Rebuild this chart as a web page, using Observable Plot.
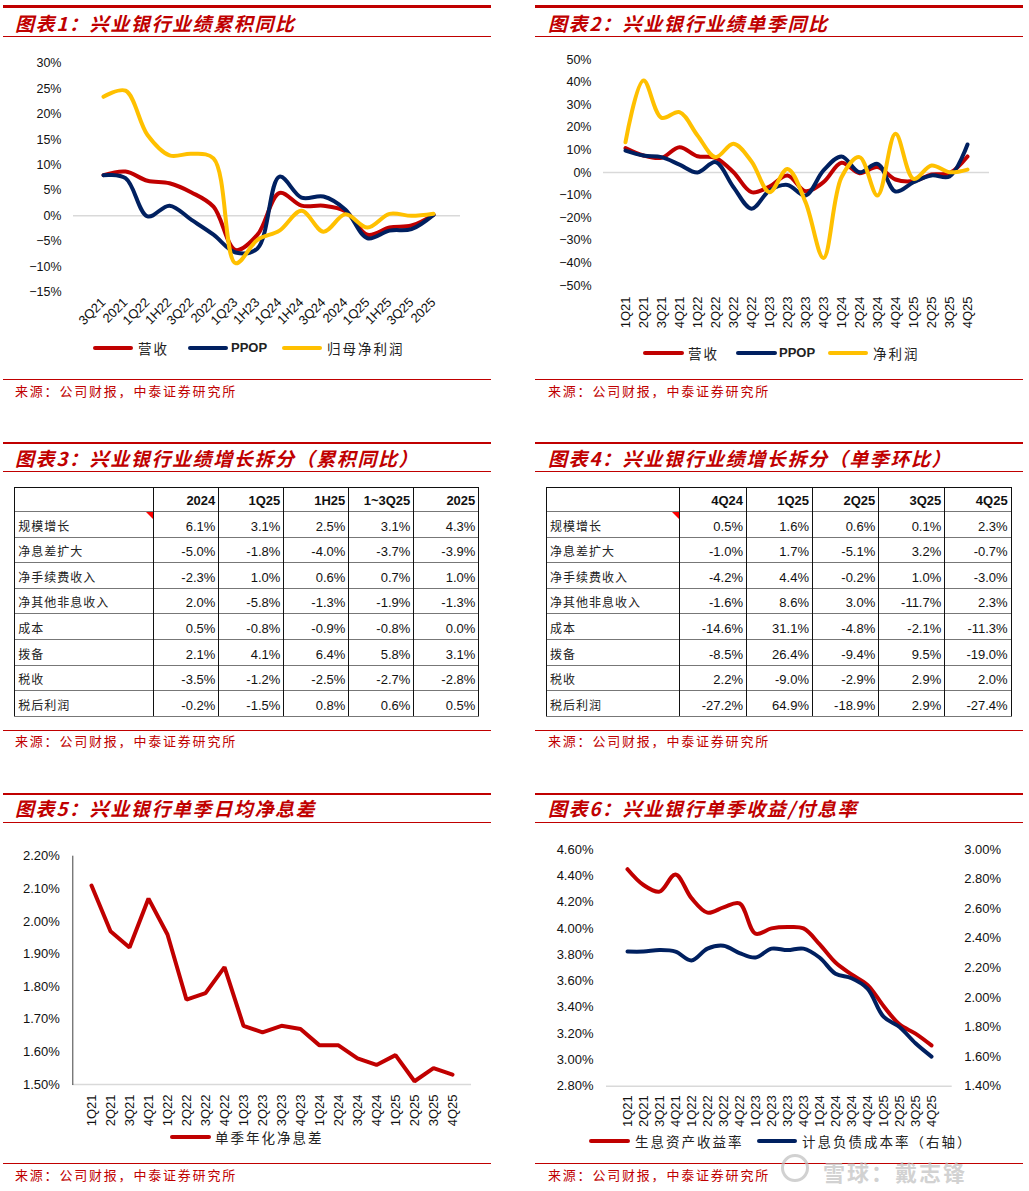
<!DOCTYPE html>
<html><head><meta charset="utf-8">
<script src="https://cdn.jsdelivr.net/npm/d3@7"></script>
<script src="https://cdn.jsdelivr.net/npm/@observablehq/plot@0.6"></script>
<style>
html,body{margin:0;padding:0;background:#fff;}
body{width:1029px;height:1191px;position:relative;overflow:hidden;font-family:"Liberation Sans",Arial,sans-serif;}
.topline{position:absolute;height:2.5px;background:#C00000;}
.thinline{position:absolute;height:1.2px;background:#C00000;}
.title{position:absolute;font-family:"Noto Sans CJK SC",sans-serif;font-weight:bold;font-style:italic;color:#C00000;font-size:19px;letter-spacing:1.6px;line-height:22px;white-space:nowrap;}
.src{position:absolute;font-family:"Noto Sans CJK SC",sans-serif;color:#C00000;font-size:13px;letter-spacing:1.8px;line-height:16px;white-space:nowrap;}
.chart{position:absolute;}
.leg{position:absolute;height:4px;border-radius:2px;}
.legt{position:absolute;font-family:"Noto Sans CJK SC",sans-serif;font-size:13.5px;letter-spacing:2px;line-height:18px;color:#222;white-space:nowrap;}
.legt.lat{font-family:"Liberation Sans",Arial,sans-serif;font-size:13px;letter-spacing:0;font-weight:bold;}
table.t{position:absolute;border-collapse:collapse;table-layout:fixed;border:1.2px solid #111;}
table.t td{border-left:1.2px solid #111;border-right:1.2px solid #111;border-top:1.6px solid #777;padding:0 3px 3px 3px;font-size:13px;color:#111;text-align:right;vertical-align:bottom;white-space:nowrap;overflow:hidden;}
table.t tr.h td{font-weight:bold;border-top:1.2px solid #111;}
table.t tr:last-child td{border-bottom:1.6px solid #777;}
table.t td.lab{text-align:left;font-family:"Noto Sans CJK SC",sans-serif;font-size:12px;letter-spacing:1px;position:relative;color:#222;}
.tri{position:absolute;right:0;top:0;width:0;height:0;border-top:7px solid #ff0000;border-left:7px solid transparent;}
.wm{position:absolute;font-family:"Noto Sans CJK SC",sans-serif;font-weight:bold;font-size:22px;color:rgba(190,190,190,0.7);letter-spacing:2px;white-space:nowrap;line-height:22px;}
.ring{position:absolute;border:3px solid rgba(190,190,190,0.7);border-radius:50%;}
</style>
</head><body>
<script>
// ---------------- DATA ----------------
// Chart 1: cumulative YoY (%)
const cumCats = ["3Q21","2021","1Q22","1H22","3Q22","2022","1Q23","1H23","1Q24","1H24","3Q24","2024","1Q25","1H25","3Q25","2025"];
const cumRevenue = [8.0,8.7,6.9,6.4,4.6,1.8,-6.7,-3.7,4.5,2.0,2.0,0.9,-3.7,-2.3,-1.9,0.2];
const cumPPOP    = [8.0,7.4,-0.1,2.0,-0.8,-3.7,-7.2,-6.4,7.7,3.6,3.8,1.2,-4.4,-2.9,-2.6,0.2];
const cumProfit  = [23.4,24.6,15.9,11.9,12.2,11.3,-9.3,-4.7,-2.9,1.0,-3.1,0.3,-2.3,0.4,0.0,0.4];
const cumTicks = [-15,-10,-5,0,5,10,15,20,25,30];

// Chart 2: single-quarter YoY (%)
const qCats = ["1Q21","2Q21","3Q21","4Q21","1Q22","2Q22","3Q22","4Q22","1Q23","2Q23","3Q23","4Q23","1Q24","2Q24","3Q24","4Q24","1Q25","2Q25","3Q25","4Q25"];
const qRevenue = [10.8,7.5,6.5,11.2,7.2,6.5,0.1,-8.7,-6.2,-1.3,-8.3,-4.3,4.3,-0.3,2.4,-3.1,-3.8,-0.9,-0.3,7.1];
const qPPOP    = [9.7,7.5,6.8,3.5,0.0,4.6,-6.5,-16.0,-8.0,-5.5,-10.2,0.9,7.1,0.1,3.8,-8.4,-4.3,-1.3,-1.8,12.4];
const qProfit  = [13.4,40.7,24.2,26.7,16.4,6.8,12.7,4.9,-8.7,1.6,-13.1,-37.8,-2.1,6.8,-10.2,17.1,-2.8,3.1,0.1,1.3];
const qTicks = [-50,-40,-30,-20,-10,0,10,20,30,40,50];

// Table 3: cumulative YoY decomposition
const t3Cols = ["2024","1Q25","1H25","1~3Q25","2025"];
const t3Rows = ["规模增长","净息差扩大","净手续费收入","净其他非息收入","成本","拨备","税收","税后利润"];
const t3Vals = [
  ["6.1%","3.1%","2.5%","3.1%","4.3%"],
  ["-5.0%","-1.8%","-4.0%","-3.7%","-3.9%"],
  ["-2.3%","1.0%","0.6%","0.7%","1.0%"],
  ["2.0%","-5.8%","-1.3%","-1.9%","-1.3%"],
  ["0.5%","-0.8%","-0.9%","-0.8%","0.0%"],
  ["2.1%","4.1%","6.4%","5.8%","3.1%"],
  ["-3.5%","-1.2%","-2.5%","-2.7%","-2.8%"],
  ["-0.2%","-1.5%","0.8%","0.6%","0.5%"]
];
// Table 4: single-quarter QoQ decomposition
const t4Cols = ["4Q24","1Q25","2Q25","3Q25","4Q25"];
const t4Rows = t3Rows;
const t4Vals = [
  ["0.5%","1.6%","0.6%","0.1%","2.3%"],
  ["-1.0%","1.7%","-5.1%","3.2%","-0.7%"],
  ["-4.2%","4.4%","-0.2%","1.0%","-3.0%"],
  ["-1.6%","8.6%","3.0%","-11.7%","2.3%"],
  ["-14.6%","31.1%","-4.8%","-2.1%","-11.3%"],
  ["-8.5%","26.4%","-9.4%","9.5%","-19.0%"],
  ["2.2%","-9.0%","-2.9%","2.9%","2.0%"],
  ["-27.2%","64.9%","-18.9%","2.9%","-27.4%"]
];

// Chart 5: single-quarter annualized NIM (%)
const nim = [2.11,1.97,1.92,2.07,1.96,1.76,1.78,1.86,1.68,1.66,1.68,1.67,1.62,1.62,1.58,1.56,1.59,1.51,1.55,1.53];
const nimTicks = [1.5,1.6,1.7,1.8,1.9,2.0,2.1,2.2];

// Chart 6: asset yield (left) / liability cost (right) (%)
const assetYield = [4.45,4.33,4.28,4.41,4.23,4.12,4.16,4.19,3.96,4.00,4.01,4.00,3.88,3.74,3.65,3.57,3.41,3.27,3.20,3.11];
const liabCost   = [2.31,2.31,2.32,2.31,2.25,2.33,2.35,2.30,2.27,2.33,2.32,2.33,2.27,2.16,2.13,2.06,1.87,1.80,1.69,1.60];
const leftTicks6  = [2.8,3.0,3.2,3.4,3.6,3.8,4.0,4.2,4.4,4.6];
const rightTicks6 = [1.4,1.6,1.8,2.0,2.2,2.4,2.6,2.8,3.0];

const RED = "#C00000", NAVY = "#002060", GOLD = "#FFC000";
const SRC = "来源：公司财报，中泰证券研究所";

// ---------------- HELPERS ----------------
function el(tag, cls, style, text){
  const e = document.createElement(tag);
  if (cls) e.className = cls;
  Object.assign(e.style, style || {});
  if (text != null) e.textContent = text;
  document.body.appendChild(e);
  return e;
}
function header(x, w, yTop, yThin, titleY, titleX, title){
  el("div","topline",{left:x+"px",top:yTop+"px",width:w+"px"});
  el("div","thinline",{left:x+"px",top:yThin+"px",width:w+"px"});
  el("div","title",{left:titleX+"px",top:(titleY-11)+"px"}, title);
}
function footer(x, w, yLine, textX, textY){
  el("div","thinline",{left:x+"px",top:yLine+"px",width:w+"px"});
  el("div","src",{left:textX+"px",top:(textY-8)+"px"}, SRC);
}
function legend(y, items){
  items.forEach(it => {
    el("div","leg",{left:it.x1+"px",top:(y-2)+"px",width:(it.x2-it.x1)+"px",background:it.color});
    el("div","legt"+(it.latin?" lat":""),{left:it.tx+"px",top:(y-9)+"px"}, it.label);
  });
}
function place(svg, left, top){
  const d = document.createElement("div");
  d.className = "chart";
  d.style.left = left+"px"; d.style.top = top+"px";
  d.appendChild(svg);
  document.body.appendChild(d);
}
const pct = d => (d < 0 ? "\u2212" : "") + Math.abs(d) + "%";
const pct2 = d => d.toFixed(2) + "%";
const axisStyle = {fontFamily:"'Liberation Sans', Arial, sans-serif", fontSize:"12.5px", color:"#111", background:"transparent", overflow:"visible"};
const rows = (cats, vals) => cats.map((c,i) => ({c, v: vals[i]}));

// ---------------- PANEL 1 ----------------
header(3, 488, 5, 36, 22.7, 15, "图表1：兴业银行业绩累积同比");
place(Plot.plot({
  width:488, height:335,
  marginLeft:70, marginRight:31, marginTop:22.7, marginBottom:83.3,
  style: axisStyle,
  x:{type:"point", domain:cumCats, range:[82,447]},
  y:{domain:[-15,30]},
  marks:[
    Plot.ruleY([0],{stroke:"#d9d9d9", strokeWidth:1.5}),
    Plot.axisY({ticks:cumTicks, tickSize:0, tickPadding:12, tickFormat:pct, label:null}),
    Plot.axisX({tickSize:0, tickRotate:-45, tickPadding:8, fontSize:13, label:null}),
    Plot.line(rows(cumCats,cumRevenue),{x:"c",y:"v",stroke:RED,strokeWidth:4,curve:"catmull-rom"}),
    Plot.line(rows(cumCats,cumPPOP),{x:"c",y:"v",stroke:NAVY,strokeWidth:4,curve:"catmull-rom"}),
    Plot.line(rows(cumCats,cumProfit),{x:"c",y:"v",stroke:GOLD,strokeWidth:4,curve:"catmull-rom"})
  ]
}), 3, 40);
legend(348, [
  {x1:93,x2:133,color:RED,label:"营收",tx:138},
  {x1:188,x2:228,color:NAVY,label:"PPOP",tx:231,latin:true},
  {x1:282,x2:322,color:GOLD,label:"归母净利润",tx:327}
]);
footer(3, 488, 379, 15, 390.5);

// ---------------- PANEL 2 ----------------
header(535, 488, 5, 36, 22.7, 548, "图表2：兴业银行业绩单季同比");
place(Plot.plot({
  width:488, height:335,
  marginLeft:68, marginRight:34, marginTop:19, marginBottom:90,
  style: axisStyle,
  x:{type:"point", domain:qCats, range:[77.7,445]},
  y:{domain:[-50,50]},
  marks:[
    Plot.ruleY([0],{stroke:"#d9d9d9", strokeWidth:1.5}),
    Plot.axisY({ticks:qTicks, tickSize:0, tickPadding:12, tickFormat:pct, label:null}),
    Plot.axisX({tickSize:0, tickRotate:-90, tickPadding:11, fontSize:13, label:null}),
    Plot.line(rows(qCats,qRevenue),{x:"c",y:"v",stroke:RED,strokeWidth:4,curve:"catmull-rom"}),
    Plot.line(rows(qCats,qPPOP),{x:"c",y:"v",stroke:NAVY,strokeWidth:4,curve:"catmull-rom"}),
    Plot.line(rows(qCats,qProfit),{x:"c",y:"v",stroke:GOLD,strokeWidth:4,curve:"catmull-rom"})
  ]
}), 535, 40);
legend(353, [
  {x1:643,x2:684,color:RED,label:"营收",tx:688},
  {x1:736,x2:777,color:NAVY,label:"PPOP",tx:779,latin:true},
  {x1:828,x2:868,color:GOLD,label:"净利润",tx:873}
]);
footer(535, 488, 379, 548, 390.5);

// ---------------- TABLES ----------------
function table(left, top, firstW, colWs, cols, rowNames, vals){
  const t = document.createElement("table");
  t.className = "t";
  t.style.left = left+"px"; t.style.top = top+"px";
  const cg = document.createElement("colgroup");
  [firstW, ...colWs].forEach(w => { const c = document.createElement("col"); c.style.width = w+"px"; cg.appendChild(c); });
  t.appendChild(cg);
  const hr = document.createElement("tr"); hr.className = "h"; hr.style.height = "24.3px";
  const h0 = document.createElement("td"); hr.appendChild(h0);
  cols.forEach(c => { const td = document.createElement("td"); td.textContent = c; hr.appendChild(td); });
  t.appendChild(hr);
  rowNames.forEach((r,i) => {
    const tr = document.createElement("tr"); tr.style.height = "25.6px";
    const td0 = document.createElement("td"); td0.className = "lab"; td0.textContent = r;
    if (i === 0) { const tri = document.createElement("span"); tri.className = "tri"; td0.appendChild(tri); }
    tr.appendChild(td0);
    vals[i].forEach(v => { const td = document.createElement("td"); td.textContent = v; tr.appendChild(td); });
    t.appendChild(tr);
  });
  document.body.appendChild(t);
}
header(3, 488, 441.7, 471, 458, 15, "图表3：兴业银行业绩增长拆分（累积同比）");
table(14.3, 486.7, 139, [65,65,65,65,65], t3Cols, t3Rows, t3Vals);
footer(3, 488, 730, 15, 741);

header(535, 488, 441.7, 471, 458, 548, "图表4：兴业银行业绩增长拆分（单季环比）");
table(546, 486.7, 133.3, [66.7,66,66.3,66,66.4], t4Cols, t4Rows, t4Vals);
footer(535, 488, 730, 548, 741);

// ---------------- PANEL 5 ----------------
header(3, 488, 792.7, 822.3, 808, 15, "图表5：兴业银行单季日均净息差");
place(Plot.plot({
  width:488, height:320,
  marginLeft:69.3, marginRight:20, marginTop:25.7, marginBottom:66,
  style: axisStyle,
  x:{type:"point", domain:qCats, range:[78.7,458.7]},
  y:{domain:[1.5,2.2]},
  marks:[
    Plot.ruleY([1.5],{stroke:"#d9d9d9", strokeWidth:1.5}),
    Plot.frame({anchor:"left", stroke:"#404040", strokeWidth:1}),
    Plot.axisY({ticks:nimTicks, tickSize:0, tickPadding:13, tickFormat:pct2, fontSize:13, label:null}),
    Plot.axisX({tickSize:0, tickRotate:-90, tickPadding:10, fontSize:13, label:null}),
    Plot.line(rows(qCats,nim),{x:"c",y:"v",stroke:RED,strokeWidth:4,strokeLinejoin:"miter"})
  ]
}), 3, 830);
legend(1136.7, [
  {x1:170,x2:211,color:RED,label:"单季年化净息差",tx:215}
]);
footer(3, 488, 1163.3, 15, 1175);

// ---------------- PANEL 6 ----------------
header(535, 488, 792.7, 822.3, 808, 548, "图表6：兴业银行单季收益/付息率");
const L0 = 2.8, L1 = 4.6, R0 = 1.4, R1 = 3.0;
const toLeft = v => L0 + (v - R0) * (L1 - L0) / (R1 - R0);
const toRight = v => R0 + (v - L0) * (R1 - R0) / (L1 - L0);
place(Plot.plot({
  width:488, height:320,
  marginLeft:71, marginRight:71.3, marginTop:19, marginBottom:64.3,
  style: axisStyle,
  x:{type:"point", domain:qCats, range:[80,408.3]},
  y:{domain:[L0,L1]},
  marks:[
    Plot.ruleY([L0],{stroke:"#d9d9d9", strokeWidth:1.5}),
    Plot.axisY({anchor:"left", ticks:leftTicks6, tickSize:0, tickPadding:13, tickFormat:pct2, fontSize:13, label:null}),
    Plot.axisY({anchor:"right", ticks:rightTicks6.map(toLeft), tickSize:0, tickPadding:12, fontSize:13, tickFormat:d => toRight(d).toFixed(2)+"%", label:null}),
    Plot.axisX({tickSize:0, tickRotate:-90, tickPadding:9, fontSize:13, label:null}),
    Plot.line(rows(qCats,assetYield),{x:"c",y:"v",stroke:RED,strokeWidth:4,curve:"catmull-rom"}),
    Plot.line(rows(qCats,liabCost.map(toLeft)),{x:"c",y:"v",stroke:NAVY,strokeWidth:4,curve:"catmull-rom"})
  ]
}), 535, 830);
legend(1140.7, [
  {x1:589,x2:630,color:RED,label:"生息资产收益率",tx:635},
  {x1:757,x2:797,color:NAVY,label:"计息负债成本率（右轴）",tx:802}
]);
footer(535, 488, 1163.3, 548, 1175);

// watermark
el("div","ring",{left:781+"px",top:1154+"px",width:22+"px",height:22+"px"});
el("div","wm",{left:823+"px",top:1160+"px"}, "雪球：戴志锋");
</script>
</body></html>
